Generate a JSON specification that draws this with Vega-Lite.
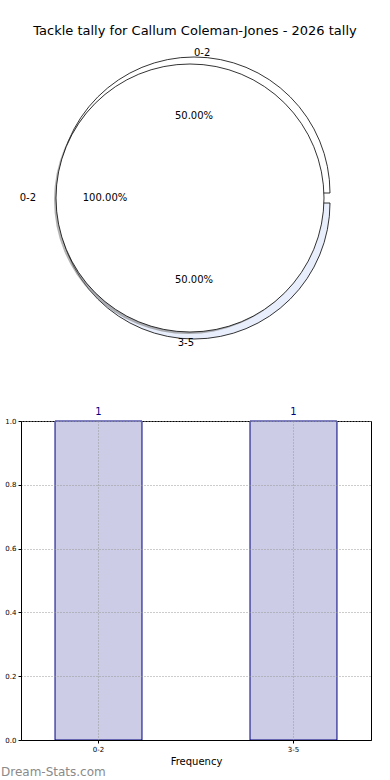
{
  "$schema": "https://vega.github.io/schema/vega-lite/v6.json",
  "background": "white",
  "padding": {"left": 0, "right": 5, "top": 25, "bottom": 2},
  "config": {"font": "DejaVu Sans"},
  "title": {"text": "Tackle tally for Callum Coleman-Jones - 2026 tally", "font": "DejaVu Sans", "fontSize": 13, "fontWeight": "normal", "color": "black", "anchor": "middle", "offset": 10, "dx": 9},
  "datasets": {
    "slices": [
      {"range": "0-2", "count": 1, "share": 0.5},
      {"range": "3-5", "count": 1, "share": 0.5}
    ],
    "whole": [
      {"range": "0-2", "count": 1, "share": 1}
    ]
  },
  "spacing": 58,
  "vconcat": [
    {
      "width": 350,
      "height": 300,
      "view": {"stroke": null},
      "resolve": {"scale": {"theta": "independent"}},
      "layer": [
        {
          "data": {"name": "slices"},
          "transform": [{"filter": "datum.range === '0-2'"}],
          "mark": {"type": "arc", "radius": 136, "fill": "white", "stroke": "black", "strokeWidth": 0.8, "xOffset": -2, "yOffset": -5},
          "encoding": {"theta": {"field": "count", "type": "quantitative", "stack": true, "scale": {"range": [-1.5708, 1.5708]}}}
        },
        {
          "data": {"name": "slices"},
          "transform": [{"filter": "datum.range === '3-5'"}],
          "mark": {"type": "arc", "radius": 136, "fill": "#e8eefb", "stroke": "black", "strokeWidth": 0.8, "xOffset": -2, "yOffset": 5},
          "encoding": {"theta": {"field": "count", "type": "quantitative", "stack": true, "scale": {"range": [1.5708, 4.7124]}}}
        },
        {
          "data": {"name": "whole"},
          "mark": {"type": "arc", "radius": 134, "fill": "#777777", "opacity": 0.55, "xOffset": -8, "yOffset": 2},
          "encoding": {"theta": {"field": "count", "type": "quantitative", "stack": true, "scale": {"range": [1.5708, 7.854]}}}
        },
        {
          "data": {"name": "whole"},
          "mark": {"type": "arc", "radius": 134, "fill": "white", "stroke": "black", "strokeWidth": 0.8, "xOffset": -6, "yOffset": 0},
          "encoding": {"theta": {"field": "count", "type": "quantitative", "stack": true, "scale": {"range": [1.5708, 7.854]}}}
        },
        {
          "data": {"name": "slices"},
          "transform": [{"filter": "datum.range === '0-2'"}],
          "encoding": {"theta": {"field": "count", "type": "quantitative", "stack": true, "scale": {"range": [-1.5708, 1.5708]}}},
          "layer": [
            {"mark": {"type": "text", "radius": 140, "align": "left", "baseline": "middle", "fontSize": 10, "color": "black", "xOffset": -2, "yOffset": -5}, "encoding": {"text": {"field": "range"}}},
            {"mark": {"type": "text", "radius": 77, "align": "center", "baseline": "middle", "fontSize": 10, "color": "black", "xOffset": -2, "yOffset": -5}, "encoding": {"text": {"field": "share", "type": "quantitative", "format": ".2%"}}}
          ]
        },
        {
          "data": {"name": "slices"},
          "transform": [{"filter": "datum.range === '3-5'"}],
          "encoding": {"theta": {"field": "count", "type": "quantitative", "stack": true, "scale": {"range": [1.5708, 4.7124]}}},
          "layer": [
            {"mark": {"type": "text", "radius": 140, "align": "right", "baseline": "middle", "fontSize": 10, "color": "black", "xOffset": -2, "yOffset": 5}, "encoding": {"text": {"field": "range"}}},
            {"mark": {"type": "text", "radius": 77, "align": "center", "baseline": "middle", "fontSize": 10, "color": "black", "xOffset": -2, "yOffset": 5}, "encoding": {"text": {"field": "share", "type": "quantitative", "format": ".2%"}}}
          ]
        },
        {
          "data": {"name": "whole"},
          "encoding": {"theta": {"field": "count", "type": "quantitative", "stack": true, "scale": {"range": [1.5708, 7.854]}}},
          "layer": [
            {"mark": {"type": "text", "radius": 154, "align": "right", "baseline": "middle", "fontSize": 10, "color": "black", "xOffset": -6}, "encoding": {"text": {"field": "range"}}},
            {"mark": {"type": "text", "radius": 85, "align": "center", "baseline": "middle", "fontSize": 10, "color": "black", "xOffset": -6}, "encoding": {"text": {"field": "share", "type": "quantitative", "format": ".2%"}}}
          ]
        }
      ]
    },
    {
      "width": 350,
      "height": 319,
      "view": {"stroke": "black", "strokeWidth": 1},
      "data": {"name": "slices"},
      "title": {"text": "Dream-Stats.com", "orient": "bottom", "anchor": "start", "frame": "group", "fontSize": 12, "fontWeight": "normal", "color": "#8a8a8a", "offset": 1, "dx": -20},
      "encoding": {
        "x": {
          "field": "range", "type": "nominal", "sort": null,
          "scale": {"paddingInner": 0.554, "paddingOuter": 0.1745},
          "axis": {"zindex": 1, "title": "Frequency", "titleFontSize": 10, "titleFontWeight": "normal", "titleColor": "black", "titlePadding": 4, "labelAngle": 0, "labelFontSize": 7, "labelColor": "black", "labelPadding": 2, "tickColor": "black", "tickSize": 3, "domainColor": "black", "grid": true, "gridDash": [1, 2], "gridColor": "#999999", "bandPosition": 0.5}
        },
        "y": {
          "field": "count", "type": "quantitative",
          "scale": {"domain": [0, 1]},
          "axis": {"zindex": 1, "title": null, "values": [0, 0.2, 0.4, 0.6, 0.8, 1], "format": ".1f", "labelFontSize": 7, "labelColor": "black", "labelPadding": 2, "tickColor": "black", "tickSize": 3, "domainColor": "black", "grid": true, "gridDash": [1, 2], "gridColor": "#999999"}
        }
      },
      "layer": [
        {"mark": {"type": "bar", "fill": "#ccccE6", "stroke": "#000080", "strokeWidth": 1}},
        {"mark": {"type": "text", "dy": -9, "color": "#000080", "fontSize": 10}, "encoding": {"text": {"field": "count", "type": "quantitative"}}}
      ]
    }
  ]
}
